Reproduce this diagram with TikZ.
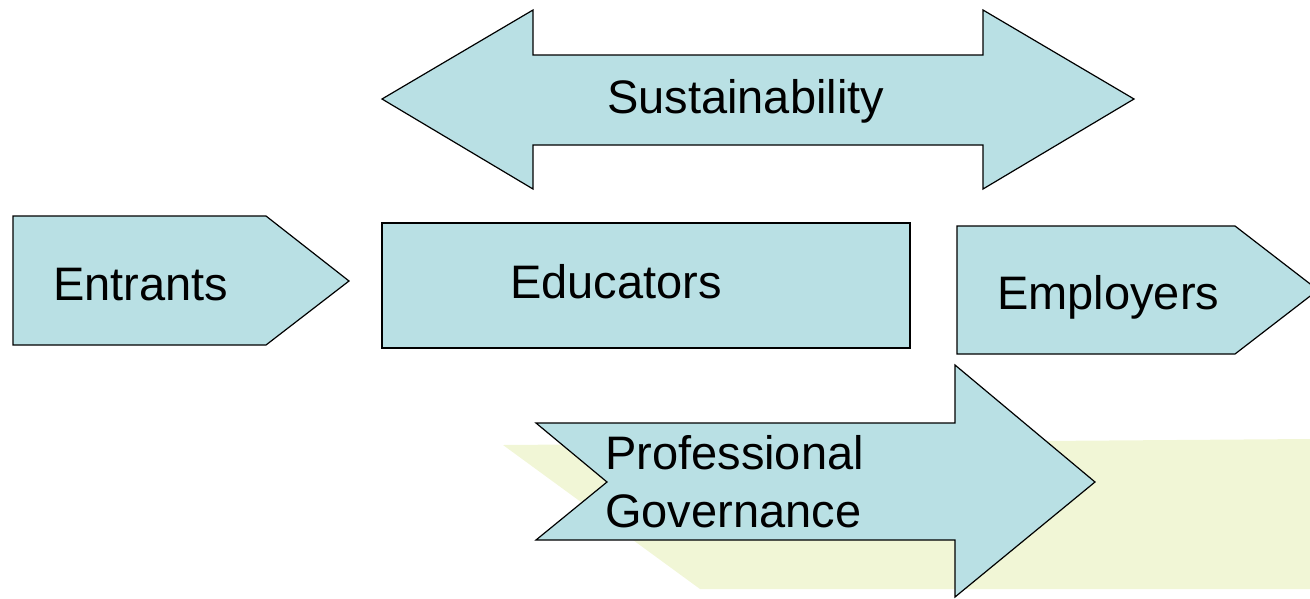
\documentclass[tikz,border=0pt]{standalone}
\usepackage{fontspec}
\setmainfont{Liberation Sans}
\definecolor{shapefill}{RGB}{185,224,228}
\definecolor{bgyellow}{RGB}{241,246,214}
\tikzset{
  shapebox/.style={draw=black, line width=1.2pt, fill=shapefill, line join=miter},
  lbl/.style={anchor=base west, inner sep=0pt, font=\fontsize{47}{58}\selectfont, text=black},
}
\begin{document}
\begin{tikzpicture}[x=1pt,y=-1pt]
\useasboundingbox (0,0) rectangle (1310,598);
% background yellow band
\fill[bgyellow] (503,445) -- (1310,439) -- (1310,589) -- (700,589) -- cycle;
% Sustainability double arrow
\draw[shapebox] (382,99) -- (533,10) -- (533,55) -- (983,55) -- (983,10) -- (1134,99)
  -- (983,189) -- (983,145) -- (533,145) -- (533,189) -- cycle;
\node[lbl] (sust) at (607,113) {Sustainability};
% Entrants
\draw[shapebox] (13,216) -- (266,216) -- (349,281) -- (266,345) -- (13,345) -- cycle;
\node[lbl] (entr) at (53,300) {Entrants};
% Educators
\draw[shapebox] (382,223) rectangle (910,348);
\node[lbl] (educ) at (510,298) {Educators};
% Employers
\draw[shapebox] (957,226) -- (1235,226) -- (1318,290) -- (1235,354) -- (957,354) -- cycle;
\node[lbl] (empl) at (997,309) {Employers};
% Professional Governance
\draw[shapebox] (536,423) -- (955,423) -- (955,365) -- (1095,482) -- (955,597)
  -- (955,540) -- (536,540) -- (607,482) -- cycle;
\node[lbl] (prof) at (605,469) {Professional};
\node[lbl] (gov) at (605,527) {Governance};
\end{tikzpicture}
\end{document}
